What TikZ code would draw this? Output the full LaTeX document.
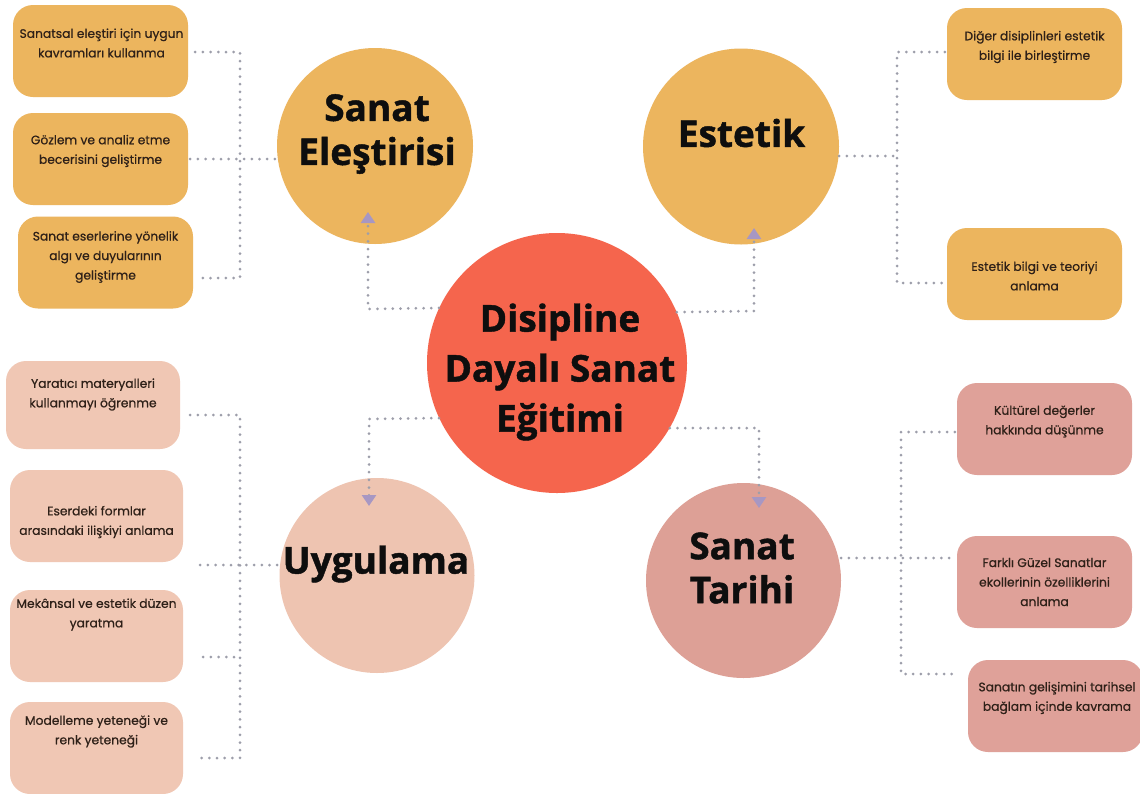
\documentclass[tikz,border=0pt]{standalone}
\usepackage{fontspec}
\setmainfont{Poppins}
\newfontfamily\boxfont{Poppins}[FakeBold=0.6]
\newfontfamily\headfont{Open Sans}[BoldFeatures={FakeBold=1.2}]
\usetikzlibrary{arrows.meta}
\definecolor{ochre}{HTML}{ECB55E}
\definecolor{tomato}{HTML}{F5654D}
\definecolor{peach}{HTML}{EEC4B1}
\definecolor{peachbox}{HTML}{F0C7B4}
\definecolor{rose}{HTML}{DDA096}
\definecolor{rosebox}{HTML}{DFA199}
\definecolor{dotgray}{HTML}{9D9EAA}
\definecolor{arrowpurple}{HTML}{A797C3}
\definecolor{boxtext}{HTML}{2E2018}
\definecolor{headtext}{HTML}{0E0E0E}
\begin{document}
\begin{tikzpicture}[x=1pt,y=-1pt,
  circ/.style={circle, inner sep=0pt, minimum size=196pt},
  ctext/.style={font=\headfont\bfseries\fontsize{37}{44}\selectfont, align=center, text=headtext, inner sep=0pt},
  bx/.style={rounded corners=20pt, minimum width=175pt, minimum height=92pt, inner sep=0pt},
  bt/.style={font=\boxfont\fontsize{12.3}{19.5}\selectfont, align=center, text=boxtext, inner sep=0pt},
  dots/.style={draw=dotgray, line width=3pt, line cap=round, dash pattern=on 0pt off 7.7pt},
  arr/.style={-{Triangle[width=14pt,length=11pt,color=arrowpurple,fill=arrowpurple]}},
]
\useasboundingbox (0,0) rectangle (1140,793);
\fill[white] (0,0) rectangle (1140,793);

% ---- circles
\node[circ, fill=tomato, minimum size=260pt] (dd) at (557,363) {};
\node[circ, fill=ochre] (se) at (375,146) {};
\node[circ, fill=ochre] (es) at (741,146.5) {};
\node[circ, fill=peach, minimum size=195pt] (ug) at (377,575.5) {};
\node[circ, fill=rose, minimum size=195pt] (st) at (743.5,580.5) {};

\node[ctext, font=\headfont\bfseries\fontsize{37}{50}\selectfont] (ddt) at (560,372) {Disipline\\Dayalı Sanat\\Eğitimi};
\node[ctext] (set) at (377,134) {Sanat\\Eleştirisi};
\node[ctext] (est) at (741.5,133) {Estetik};
\node[ctext] (ugt) at (376,564) {Uygulama};
\node[ctext] (stt) at (742,568) {Sanat\\Tarihi};

% ---- boxes top-left
\node[bx, fill=ochre] (tl1) at (100.5,51) {};
\node[bx, fill=ochre] (tl2) at (100.5,159) {};
\node[bx, fill=ochre] (tl3) at (105.5,262.5) {};
\node[bt] (tl1t) at (101.5,43) {Sanatsal eleştiri için uygun\\kavramları kullanma};
\node[bt] (tl2t) at (100.5,151) {Gözlem ve analiz etme\\becerisini geliştirme};
\node[bt] (tl3t) at (105.5,257) {Sanat eserlerine yönelik\\algı ve duyularının\\geliştirme};

% ---- boxes top-right
\node[bx, fill=ochre] (tr1) at (1034.5,54) {};
\node[bx, fill=ochre] (tr2) at (1034.5,274) {};
\node[bt] (tr1t) at (1034.5,47) {Diğer disiplinleri estetik\\bilgi ile birleştirme};
\node[bt] (tr2t) at (1034.5,276) {Estetik bilgi ve teoriyi\\anlama};

% ---- boxes bottom-left
\node[bx, fill=peachbox, minimum width=174pt, minimum height=88pt] (bl1) at (93,405) {};
\node[bx, fill=peachbox, minimum width=173pt] (bl2) at (96.5,516) {};
\node[bx, fill=peachbox, minimum width=173pt] (bl3) at (96.5,636) {};
\node[bx, fill=peachbox, minimum width=173pt] (bl4) at (96.5,748) {};
\node[bt] (bl1t) at (93,394.5) {Yaratıcı materyalleri\\kullanmayı öğrenme};
\node[bt] (bl2t) at (96.5,522) {Eserdeki formlar\\arasındaki ilişkiyi anlama};
\node[bt] (bl3t) at (96.5,614.5) {Mekânsal ve estetik düzen\\yaratma};
\node[bt] (bl4t) at (96.5,731.5) {Modelleme yeteneği ve\\renk yeteneği};

% ---- boxes bottom-right
\node[bx, fill=rosebox] (br1) at (1044.5,429) {};
\node[bx, fill=rosebox] (br2) at (1044.5,582) {};
\node[bx, fill=rosebox] (br3) at (1055.5,706) {};
\node[bt] (br1t) at (1044.5,421.5) {Kültürel değerler\\hakkında düşünme};
\node[bt] (br2t) at (1044.5,582) {Farklı Güzel Sanatlar\\ekollerinin özelliklerini\\anlama};
\node[bt] (br3t) at (1057,698) {Sanatın gelişimini tarihsel\\bağlam içinde kavrama};

% ---- junction coordinates
\coordinate (tlA) at (240,52);
\coordinate (tlB) at (240,278);
\coordinate (trA) at (897,52);
\coordinate (trB) at (897,283);
\coordinate (trM) at (897,156);
\coordinate (blA) at (240,415);
\coordinate (blC) at (240,657);
\coordinate (blD) at (240,758);
\coordinate (blM) at (240,565);
\coordinate (brA) at (901,432);
\coordinate (brM) at (901,558);
\coordinate (brC) at (901,674);

% ---- dotted connectors, top-left
\draw[dots, shorten <=7pt, shorten >=7pt] (tl1.east |- tlA) -- (tlA) -- (tlB) -- (tl3.east |- tlB);
\draw[dots, shorten <=2pt] (tl2.east) -- (tl2.east -| se.west);
% top-right
\draw[dots, shorten <=2pt, shorten >=2pt] (tr1.west |- trA) -- (trA) -- (trB) -- (tr2.west |- trB);
\draw[dots] (es.east |- trM) -- (trM);
% bottom-left
\draw[dots, shorten <=10pt, shorten >=17pt] (bl1.east |- blA) -- (blA) -- (blD) -- (bl4.east |- blD);
\draw[dots, shorten <=17pt] (bl2.east |- blM) -- (ug.west |- blM);
\draw[dots, shorten <=20pt] (bl3.east |- blC) -- (blC);
% bottom-right
\draw[dots, shorten <=2pt, shorten >=9pt] (br1.west |- brA) -- (brA) -- (brC) -- (br3.west |- brC);
\draw[dots, shorten >=7pt] (st.east |- brM) -- (br2.west |- brM);

% ---- centre connectors with arrows
\coordinate (ctl) at (368,309);
\coordinate (aTL) at (368,212);
\coordinate (ctr) at (754,311);
\coordinate (aTR) at (754,228);
\coordinate (cbl) at (369,419);
\coordinate (aBL) at (369,506);
\coordinate (cbr) at (759,428);
\coordinate (aBR) at (759,508);
\draw[dots, arr] (dd.155.5) -- (ctl) -- (aTL);
\draw[dots, arr] (dd.23.6) -- (ctr) -- (aTR);
\draw[dots, arr] (dd.205.5) -- (cbl) -- (aBL);
\draw[dots, arr] (dd.330) -- (cbr) -- (aBR);
\end{tikzpicture}
\end{document}
